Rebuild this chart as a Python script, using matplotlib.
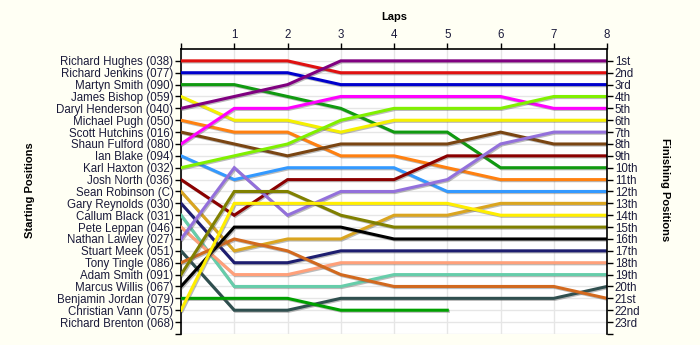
import matplotlib
matplotlib.use('Agg')
import matplotlib.pyplot as plt
import matplotlib.patheffects as pe
import numpy as np

plt.rcParams['font.family'] = ['Liberation Sans', 'DejaVu Sans']

laps = [0, 1, 2, 3, 4, 5, 6, 7, 8]
drivers = ['Richard Hughes (038)', 'Richard Jenkins (077)', 'Martyn Smith (090)',
           'James Bishop (059)', 'Daryl Henderson (040)', 'Michael Pugh (050)',
           'Scott Hutchins (016)', 'Shaun Fulford (080)', 'Ian Blake (094)',
           'Karl Haxton (032)', 'Josh North (036)', 'Sean Robinson (C)',
           'Gary Reynolds (030)', 'Callum Black (031)', 'Pete Leppan (046)',
           'Nathan Lawley (027)', 'Stuart Meek (051)', 'Tony Tingle (086)',
           'Adam Smith (091)', 'Marcus Willis (067)', 'Benjamin Jordan (079)',
           'Christian Vann (075)', 'Richard Brenton (068)']
finish_labels = ['1st', '2nd', '3rd', '4th', '5th', '6th', '7th', '8th', '9th', '10th',
                 '11th', '12th', '13th', '14th', '15th', '16th', '17th', '18th', '19th',
                 '20th', '21st', '22nd', '23rd']

# position of each driver at each lap (lap 0 = start)
hughes = [1, 1, 1, 2, 2, 2, 2, 2, 2]
jenkins = [2, 2, 2, 3, 3, 3, 3, 3, 3]
m_smith = [3, 3, 4, 5, 7, 7, 10, 10, 10]
bishop = [4, 6, 6, 7, 6, 6, 6, 6, 6]
henderson = [5, 4, 3, 1, 1, 1, 1, 1, 1]
pugh = [6, 7, 7, 9, 9, 10, 11, 11, 11]
hutchins = [7, 8, 9, 8, 8, 8, 7, 8, 8]
fulford = [8, 5, 5, 4, 4, 4, 4, 5, 5]
blake = [9, 11, 10, 10, 10, 12, 12, 12, 12]
haxton = [10, 9, 8, 6, 5, 5, 5, 4, 4]
north = [11, 14, 11, 11, 11, 9, 9, 9, 9]
robinson = [12, 17, 16, 16, 14, 14, 13, 13, 13]
reynolds = [13, 18, 18, 17, 17, 17, 17, 17, 17]
black = [14, 20, 20, 20, 19, 19, 19, 19, 19]
leppan = [15, 19, 19, 18, 18, 18, 18, 18, 18]
lawley = [16, 10, 14, 12, 12, 11, 8, 7, 7]
meek = [17, 22, 22, 21, 21, 21, 21, 21, 20]
tingle = [18, 16, 17, 19, 20, 20, 20, 20, 21]
a_smith = [19, 12, 12, 14, 15, 15, 15, 15, 15]
willis = [20, 15, 15, 15, 16, 16, 16, 16, 16]
jordan = [21, 21, 21, 22, 22, 22]
vann = [22, 13, 13, 13, 13, 13, 14, 14, 14]
brenton = []

series = [hughes, jenkins, m_smith, bishop, henderson, pugh, hutchins, fulford,
          blake, haxton, north, robinson, reynolds, black, leppan, lawley, meek,
          tingle, a_smith, willis, jordan, vann, brenton]
colors = ['#E01010', '#0000CC', '#109A10', '#F5F000', '#800080', '#FF8010',
          '#7A4512', '#FF00FF', '#3399FF', '#80F000', '#8B0000', '#DAA520',
          '#1E1E70', '#66CDAA', '#FFA07A', '#9370DB', '#2F4F4F', '#D2691E',
          '#808000', '#000000', '#00A000', '#FFEE00', '#888888']

bg = '#FFFFF4'
txt = '#1A1A3A'
fig = plt.figure(figsize=(7, 3.45), dpi=100, facecolor=bg)
ax = fig.add_axes([0.2586, 0.032, 0.6086, 0.826])
ax.set_facecolor('white')

shadow = [pe.SimpleLineShadow(offset=(0.8, -0.8), shadow_color='#555555', alpha=0.4),
          pe.Normal()]
for pos, c in zip(series, colors):
    if len(pos) == 0:
        continue
    ax.plot(laps[:len(pos)], pos, color=c, lw=2.2, solid_joinstyle='miter',
            path_effects=shadow, zorder=3)

ax.set_xlim(0, 8)
ax.set_ylim(24, 0)

ax.xaxis.tick_top()
ax.set_xticks(laps)
ax.set_xticklabels([''] + [str(l) for l in laps[1:]])

yt = np.arange(1, 25)
ax.set_yticks(yt)
ax.set_yticklabels(drivers + [''])

ax2 = ax.twinx()
ax2.set_ylim(24, 0)
ax2.set_yticks(yt)
ax2.set_yticklabels(finish_labels + [''])

for a in (ax, ax2):
    a.tick_params(axis='both', length=4, width=1, color='black', labelsize=8.3,
                  labelcolor=txt, pad=1.5)
    a.spines['bottom'].set_visible(False)
    for s in ('left', 'right', 'top'):
        a.spines[s].set_linewidth(1.2)
ax2.spines['left'].set_visible(False)
ax2.spines['top'].set_visible(False)
ax.spines['right'].set_visible(False)

ax.grid(True, color='#E6E6E6', lw=1, zorder=0)
ax.set_axisbelow(True)

fig.text(394 / 700, 1 - 17 / 345, 'Laps', fontweight='bold', fontsize=8,
         ha='center', va='center')
fig.text(30 / 700, 1 - 190 / 345, 'Starting Positions', fontweight='bold', fontsize=8,
         rotation=90, ha='center', va='center')
fig.text(665 / 700, 1 - 190 / 345, 'Finishing Positions', fontweight='bold', fontsize=8,
         rotation=270, ha='center', va='center')

fig.savefig('out.png', dpi=100, facecolor=bg)
